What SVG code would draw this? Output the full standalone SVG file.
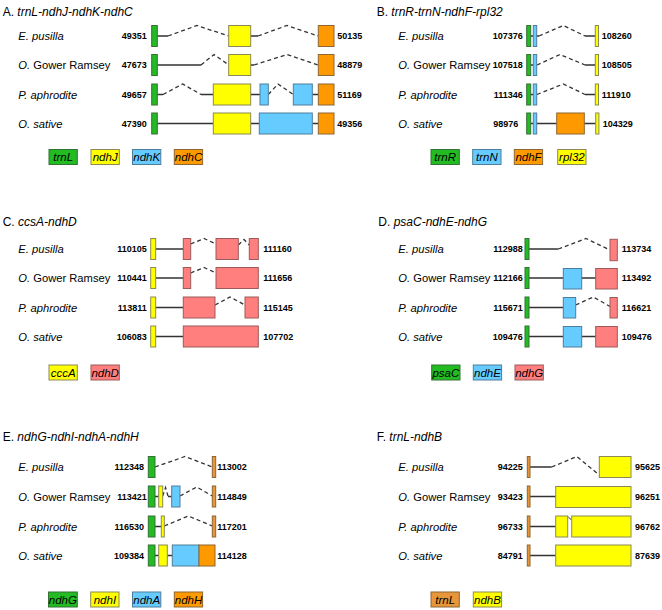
<svg xmlns="http://www.w3.org/2000/svg" width="662" height="610" viewBox="0 0 662 610">
<style>
text{font-family:"Liberation Sans",Arial,sans-serif;fill:#000}
.t{font-size:12px}
.sp{font-size:11.2px}
.it{font-style:italic}
.n{font-size:9px;font-weight:bold}
.nr{font-size:9px;font-weight:bold;text-anchor:end}
.lg{font-size:11.5px;font-style:italic;text-anchor:middle}
rect{stroke-width:1}
.g{fill:#22bb22;stroke:#357035}
.y{fill:#ffff00;stroke:#8a8a55}
.b{fill:#66ccff;stroke:#4f7d9c}
.o{fill:#ff9900;stroke:#8c6633}
.o2{fill:#e8963a;stroke:#8c6633}
.p{fill:#ff7f7f;stroke:#9c5a5a}
.s{fill:none;stroke:#333;stroke-width:1.3}
.d{fill:none;stroke:#333;stroke-width:1.3;stroke-dasharray:4 3}
</style>
<rect width="662" height="610" fill="#fff"/>

<!-- Titles and labels -->
<g id="labels">
<text class="t" x="2.7" y="15.5">A. <tspan class="it">trnL-ndhJ-ndhK-ndhC</tspan></text>
<text class="t" x="376.7" y="15.5">B. <tspan class="it">trnR-trnN-ndhF-rpl32</tspan></text>
<text class="t" x="2.7" y="226">C. <tspan class="it">ccsA-ndhD</tspan></text>
<text class="t" x="378.3" y="226">D. <tspan class="it">psaC-ndhE-ndhG</tspan></text>
<text class="t" x="2.7" y="441">E. <tspan class="it">ndhG-ndhI-ndhA-ndhH</tspan></text>
<text class="t" x="376.7" y="441">F. <tspan class="it">trnL-ndhB</tspan></text>

<text class="sp it" x="18.3" y="40">E. pusilla</text>
<text class="sp" x="18.3" y="69"><tspan class="it">O.</tspan> Gower Ramsey</text>
<text class="sp it" x="18.3" y="98.5">P. aphrodite</text>
<text class="sp it" x="18.3" y="127.5">O. sative</text>
<text class="sp it" x="398.3" y="40">E. pusilla</text>
<text class="sp" x="398.3" y="69"><tspan class="it">O.</tspan> Gower Ramsey</text>
<text class="sp it" x="398.3" y="98.5">P. aphrodite</text>
<text class="sp it" x="398.3" y="127.5">O. sative</text>

<text class="sp it" x="18.3" y="253">E. pusilla</text>
<text class="sp" x="18.3" y="282"><tspan class="it">O.</tspan> Gower Ramsey</text>
<text class="sp it" x="18.3" y="311.5">P. aphrodite</text>
<text class="sp it" x="18.3" y="340.5">O. sative</text>
<text class="sp it" x="398.3" y="253">E. pusilla</text>
<text class="sp" x="398.3" y="282"><tspan class="it">O.</tspan> Gower Ramsey</text>
<text class="sp it" x="398.3" y="311.5">P. aphrodite</text>
<text class="sp it" x="398.3" y="340.5">O. sative</text>

<text class="sp it" x="18.3" y="471">E. pusilla</text>
<text class="sp" x="18.3" y="500.5"><tspan class="it">O.</tspan> Gower Ramsey</text>
<text class="sp it" x="18.3" y="530.5">P. aphrodite</text>
<text class="sp it" x="18.3" y="559.5">O. sative</text>
<text class="sp it" x="398.3" y="471">E. pusilla</text>
<text class="sp" x="398.3" y="500.5"><tspan class="it">O.</tspan> Gower Ramsey</text>
<text class="sp it" x="398.3" y="530.5">P. aphrodite</text>
<text class="sp it" x="398.3" y="559.5">O. sative</text>

<!-- coordinates -->
<text class="nr" x="146.7" y="39.2">49351</text>
<text class="nr" x="146.7" y="68.2">47673</text>
<text class="nr" x="146.7" y="97.7">49657</text>
<text class="nr" x="146.7" y="126.7">47390</text>
<text class="n" x="337.3" y="39.2">50135</text>
<text class="n" x="337.3" y="68.2">48879</text>
<text class="n" x="337.3" y="97.7">51169</text>
<text class="n" x="337.3" y="126.7">49356</text>

<text class="nr" x="522.7" y="39.2">107376</text>
<text class="nr" x="522.7" y="68.2">107518</text>
<text class="nr" x="522.7" y="97.7">111346</text>
<text class="nr" x="518.3" y="126.7">98976</text>
<text class="n" x="601.7" y="39.2">108260</text>
<text class="n" x="601.7" y="68.2">108505</text>
<text class="n" x="601.7" y="97.7">111910</text>
<text class="n" x="602.7" y="126.7">104329</text>

<text class="nr" x="146.7" y="252.2">110105</text>
<text class="nr" x="146.7" y="281.2">110441</text>
<text class="nr" x="146.7" y="310.7">113811</text>
<text class="nr" x="146.7" y="339.7">106083</text>
<text class="n" x="263.3" y="252.2">111160</text>
<text class="n" x="263.3" y="281.2">111656</text>
<text class="n" x="263.3" y="310.7">115145</text>
<text class="n" x="263.3" y="339.7">107702</text>

<text class="nr" x="522.7" y="252.2">112988</text>
<text class="nr" x="522.7" y="281.2">112166</text>
<text class="nr" x="522.7" y="310.7">115671</text>
<text class="nr" x="522.7" y="339.7">109476</text>
<text class="n" x="621.7" y="252.2">113734</text>
<text class="n" x="621.7" y="281.2">113492</text>
<text class="n" x="621.7" y="310.7">116621</text>
<text class="n" x="621.7" y="339.7">109476</text>

<text class="nr" x="144" y="470.2">112348</text>
<text class="nr" x="146.7" y="499.7">113421</text>
<text class="nr" x="144" y="529.7">116530</text>
<text class="nr" x="144" y="558.7">109384</text>
<text class="n" x="217.3" y="470.2">113002</text>
<text class="n" x="217.3" y="499.7">114849</text>
<text class="n" x="217.3" y="529.7">117201</text>
<text class="n" x="217.3" y="558.7">114128</text>

<text class="nr" x="522.7" y="470.2">94225</text>
<text class="nr" x="522.7" y="499.7">93423</text>
<text class="nr" x="522.7" y="529.7">96733</text>
<text class="nr" x="522.7" y="558.7">84791</text>
<text class="n" x="635" y="470.2">95625</text>
<text class="n" x="635" y="499.7">96251</text>
<text class="n" x="635" y="529.7">96762</text>
<text class="n" x="635" y="558.7">87639</text>
</g>

<!-- Connectors -->
<g id="connectors">
<path class="s" d="M157.3 36H168M250.7 36H258M157.3 65H201M250.7 65H254M157.3 94.5H163M201 94.5H213.3M250.7 94.5H260M312.3 94.5H318.3M157.3 123.5H213.3M250.7 123.5H259.3M312.3 123.5H318.3"/>
<path class="d" d="M168 36L197 25.5L228.7 36M258 36L287 25.5L318.3 36M201 65L214 54.5L228.7 65M254 65L287 54.5L318.3 65M163 94.5L182.7 84L201 94.5M268.3 94.5L278 84L293.3 94.5"/>

<path class="s" d="M530.7 36H533.3M530.7 65H533.3M530.7 94.5H533.3M530.7 123.5H533.3M536.7 36H539M585 36H595.3M585 65H595.3M585 94.5H595.3M536.7 123.5H556.7M584.3 123.5H595.7"/>
<path class="d" d="M539 36L563.3 25.5L585 36M537 65L560 54.5L585 65M537 94.5L563.3 84L585 94.5"/>

<path class="s" d="M155.7 249H183.3M155.7 278H183.3M155.7 307.5H183.3M155.7 336.5H183.3"/>
<path class="d" d="M190.7 244L204 238.5L216 244M238.3 245L244 239.5L249.3 245M190.7 273L204 267.5L216 273M215 305L230 297L245 305"/>

<path class="s" d="M529 249H558.3M529 278H563.3M581.7 278H595.7M529 307.5H563.3M529 336.5H563.3M581.7 336.5H595.7"/>
<path class="d" d="M558.3 249L586 238.5L610 250M575.7 305L593.3 297L610 306.5"/>

<path class="s" d="M155 496.5H158.7M168 496.5H171.7M155 526.5H161.3M155 555.5H158.7M167.3 555.5H172.3"/>
<path class="d" d="M155 467L185 456.5L212.3 467M162.7 496L165.5 487.5L168 496M180 496L196.7 487L212.3 496M164.3 526L188.3 516L212.3 526"/>

<path class="s" d="M530 467H551.7M530 496.5H555.7M530 526.5H555.7M530 555.5H555.7"/>
<path class="s" style="stroke-width:1" d="M568.3 517L571 519.5"/>
<path class="d" d="M551.7 467L576.7 456.5L599.3 475"/>
</g>

<!-- Panel A -->
<g id="A-r1-trnL"><rect class="g" x="151.7" y="25.5" width="5.6" height="21"/></g>
<g id="A-r1-ndhJ"><rect class="y" x="228.7" y="25.5" width="22" height="21"/></g>
<g id="A-r1-ndhC"><rect class="o" x="318.3" y="25.5" width="15.7" height="21"/></g>
<g id="A-r2-trnL"><rect class="g" x="151.7" y="54.5" width="5.6" height="21"/></g>
<g id="A-r2-ndhJ"><rect class="y" x="228.7" y="54.5" width="22" height="21"/></g>
<g id="A-r2-ndhC"><rect class="o" x="318.3" y="54.5" width="15.7" height="21"/></g>
<g id="A-r3-trnL"><rect class="g" x="151.7" y="84" width="5.6" height="21"/></g>
<g id="A-r3-ndhJ"><rect class="y" x="213.3" y="84" width="37.4" height="21"/></g>
<g id="A-r3-ndhK1"><rect class="b" x="260" y="84" width="8.3" height="21"/></g>
<g id="A-r3-ndhK2"><rect class="b" x="293.3" y="84" width="19" height="21"/></g>
<g id="A-r3-ndhC"><rect class="o" x="318.3" y="84" width="15.7" height="21"/></g>
<g id="A-r4-trnL"><rect class="g" x="151.7" y="113" width="5.6" height="21"/></g>
<g id="A-r4-ndhJ"><rect class="y" x="213.3" y="113" width="37.4" height="21"/></g>
<g id="A-r4-ndhK"><rect class="b" x="259.3" y="113" width="53" height="21"/></g>
<g id="A-r4-ndhC"><rect class="o" x="318.3" y="113" width="15.7" height="21"/></g>
<g id="A-legend">
<rect class="g" x="49" y="149.5" width="28.3" height="15"/><text class="lg" x="63.2" y="161">trnL</text>
<rect class="y" x="91" y="149.5" width="28.3" height="15"/><text class="lg" x="105.2" y="161">ndhJ</text>
<rect class="b" x="132.5" y="149.5" width="28.3" height="15"/><text class="lg" x="146.7" y="161">ndhK</text>
<rect class="o" x="174.3" y="149.5" width="28.3" height="15"/><text class="lg" x="188.5" y="161">ndhC</text>
</g>

<!-- Panel B -->
<g id="B-r1-trnR"><rect class="g" x="526.7" y="25.5" width="4" height="21"/></g>
<g id="B-r1-trnN"><rect class="b" x="533.3" y="25.5" width="3.4" height="21"/></g>
<g id="B-r1-rpl32"><rect class="y" x="595.3" y="25.5" width="3.2" height="21"/></g>
<g id="B-r2-trnR"><rect class="g" x="526.7" y="54.5" width="4" height="21"/></g>
<g id="B-r2-trnN"><rect class="b" x="533.3" y="54.5" width="3.4" height="21"/></g>
<g id="B-r2-rpl32"><rect class="y" x="595.3" y="54.5" width="3.2" height="21"/></g>
<g id="B-r3-trnR"><rect class="g" x="526.7" y="84" width="4" height="21"/></g>
<g id="B-r3-trnN"><rect class="b" x="533.3" y="84" width="3.4" height="21"/></g>
<g id="B-r3-rpl32"><rect class="y" x="595.3" y="84" width="3.2" height="21"/></g>
<g id="B-r4-trnR"><rect class="g" x="526.7" y="113" width="4" height="21"/></g>
<g id="B-r4-trnN"><rect class="b" x="533.3" y="113" width="3.4" height="21"/></g>
<g id="B-r4-ndhF"><rect class="o" x="556.7" y="113" width="27.6" height="21"/></g>
<g id="B-r4-rpl32"><rect class="y" x="595.7" y="113" width="3.2" height="21"/></g>
<g id="B-legend">
<rect class="g" x="431" y="149.5" width="28.3" height="15"/><text class="lg" x="445.2" y="161">trnR</text>
<rect class="b" x="472.7" y="149.5" width="28.3" height="15"/><text class="lg" x="486.9" y="161">trnN</text>
<rect class="o" x="514.3" y="149.5" width="28.3" height="15"/><text class="lg" x="528.5" y="161">ndhF</text>
<rect class="y" x="557.7" y="149.5" width="28.3" height="15"/><text class="lg" x="571.9" y="161">rpl32</text>
</g>

<!-- Panel C -->
<g id="C-r1-ccsA"><rect class="y" x="150.7" y="238.5" width="5" height="21"/></g>
<g id="C-r1-ndhD1"><rect class="p" x="183.3" y="238.5" width="7.4" height="21"/></g>
<g id="C-r1-ndhD2"><rect class="p" x="216" y="238.5" width="22.3" height="21"/></g>
<g id="C-r1-ndhD3"><rect class="p" x="249.3" y="238.5" width="9" height="21"/></g>
<g id="C-r2-ccsA"><rect class="y" x="150.7" y="267.5" width="5" height="21"/></g>
<g id="C-r2-ndhD1"><rect class="p" x="183.3" y="267.5" width="7.4" height="21"/></g>
<g id="C-r2-ndhD2"><rect class="p" x="216" y="267.5" width="42.3" height="21"/></g>
<g id="C-r3-ccsA"><rect class="y" x="150.7" y="297" width="5" height="21"/></g>
<g id="C-r3-ndhD1"><rect class="p" x="183.3" y="297" width="31.7" height="21"/></g>
<g id="C-r3-ndhD2"><rect class="p" x="245" y="297" width="13.3" height="21"/></g>
<g id="C-r4-ccsA"><rect class="y" x="150.7" y="326" width="5" height="21"/></g>
<g id="C-r4-ndhD"><rect class="p" x="183.3" y="326" width="75" height="21"/></g>
<g id="C-legend">
<rect class="y" x="49" y="365" width="28.3" height="15"/><text class="lg" x="63.2" y="376.5">cccA</text>
<rect class="p" x="91" y="365" width="28.3" height="15"/><text class="lg" x="105.2" y="376.5">ndhD</text>
</g>

<!-- Panel D -->
<g id="D-r1-psaC"><rect class="g" x="525" y="238.5" width="4" height="21"/></g>
<g id="D-r1-ndhG"><rect class="p" x="610" y="239.3" width="7.3" height="21.4"/></g>
<g id="D-r2-psaC"><rect class="g" x="525" y="267.5" width="4" height="21"/></g>
<g id="D-r2-ndhE"><rect class="b" x="563.3" y="268.5" width="18.4" height="20.5"/></g>
<g id="D-r2-ndhG"><rect class="p" x="595.7" y="268.5" width="21.6" height="20.5"/></g>
<g id="D-r3-psaC"><rect class="g" x="525" y="297" width="4" height="21"/></g>
<g id="D-r3-ndhE"><rect class="b" x="563.3" y="297.5" width="12.4" height="20.5"/></g>
<g id="D-r3-ndhG"><rect class="p" x="610" y="297.5" width="7.3" height="20.5"/></g>
<g id="D-r4-psaC"><rect class="g" x="525" y="326" width="4" height="21"/></g>
<g id="D-r4-ndhE"><rect class="b" x="563.3" y="326.5" width="18.4" height="20.5"/></g>
<g id="D-r4-ndhG"><rect class="p" x="595.7" y="326.5" width="21.6" height="20.5"/></g>
<g id="D-legend">
<rect class="g" x="431.7" y="365" width="28.3" height="15"/><text class="lg" x="445.9" y="376.5">psaC</text>
<rect class="b" x="473.3" y="365" width="28.3" height="15"/><text class="lg" x="487.5" y="376.5">ndhE</text>
<rect class="p" x="515" y="365" width="28.3" height="15"/><text class="lg" x="529.2" y="376.5">ndhG</text>
</g>

<!-- Panel E -->
<g id="E-r1-ndhG"><rect class="g" x="148.3" y="456.5" width="6.7" height="21"/></g>
<g id="E-r1-ndhH"><rect class="o2" x="212.3" y="456.5" width="3.4" height="21"/></g>
<g id="E-r2-ndhG"><rect class="g" x="148.3" y="486" width="6.7" height="21"/></g>
<g id="E-r2-ndhI"><rect class="y" x="158.7" y="486" width="4" height="21"/></g>
<g id="E-r2-ndhA"><rect class="b" x="171.7" y="486" width="8.3" height="21"/></g>
<g id="E-r2-ndhH"><rect class="o2" x="212.3" y="486" width="3.4" height="21"/></g>
<g id="E-r3-ndhG"><rect class="g" x="148.3" y="516" width="6.7" height="21"/></g>
<g id="E-r3-ndhI"><rect class="y" x="161.3" y="516" width="3" height="21"/></g>
<g id="E-r3-ndhH"><rect class="o2" x="212.3" y="516" width="3.4" height="21"/></g>
<g id="E-r4-ndhG"><rect class="g" x="148.3" y="545" width="6.7" height="21"/></g>
<g id="E-r4-ndhI"><rect class="y" x="158.7" y="545" width="8.6" height="21"/></g>
<g id="E-r4-ndhA"><rect class="b" x="172.3" y="545" width="26.7" height="21"/></g>
<g id="E-r4-ndhH"><rect class="o" x="199" y="545" width="16" height="21"/></g>
<g id="E-legend">
<rect class="g" x="48.5" y="592" width="28.8" height="15"/><text class="lg" x="62.9" y="603.5">ndhG</text>
<rect class="y" x="90.7" y="592" width="28.3" height="15"/><text class="lg" x="104.9" y="603.5">ndhI</text>
<rect class="b" x="132.5" y="592" width="28.3" height="15"/><text class="lg" x="146.7" y="603.5">ndhA</text>
<rect class="o" x="174.3" y="592" width="28.3" height="15"/><text class="lg" x="188.5" y="603.5">ndhH</text>
</g>

<!-- Panel F -->
<g id="F-r1-trnL"><rect class="o2" x="527.3" y="456.5" width="2.7" height="21"/></g>
<g id="F-r1-ndhB"><rect class="y" x="599.3" y="456.5" width="31.7" height="21"/></g>
<g id="F-r2-trnL"><rect class="o2" x="527.3" y="486" width="2.7" height="21"/></g>
<g id="F-r2-ndhB"><rect class="y" x="555.7" y="486.5" width="75.3" height="21"/></g>
<g id="F-r3-trnL"><rect class="o2" x="527.3" y="516" width="2.7" height="21"/></g>
<g id="F-r3-ndhB1"><rect class="y" x="555.7" y="516" width="12" height="21"/></g>
<g id="F-r3-ndhB2"><rect class="y" x="571.7" y="516" width="59.3" height="21"/></g>
<g id="F-r4-trnL"><rect class="o2" x="527.3" y="545" width="2.7" height="21"/></g>
<g id="F-r4-ndhB"><rect class="y" x="555.7" y="545" width="75.3" height="21"/></g>
<g id="F-legend">
<rect class="o2" x="431" y="592" width="28.3" height="15"/><text class="lg" x="445.2" y="603.5">trnL</text>
<rect class="y" x="473.3" y="592" width="28.3" height="15"/><text class="lg" x="487.5" y="603.5">ndhB</text>
</g>
</svg>
